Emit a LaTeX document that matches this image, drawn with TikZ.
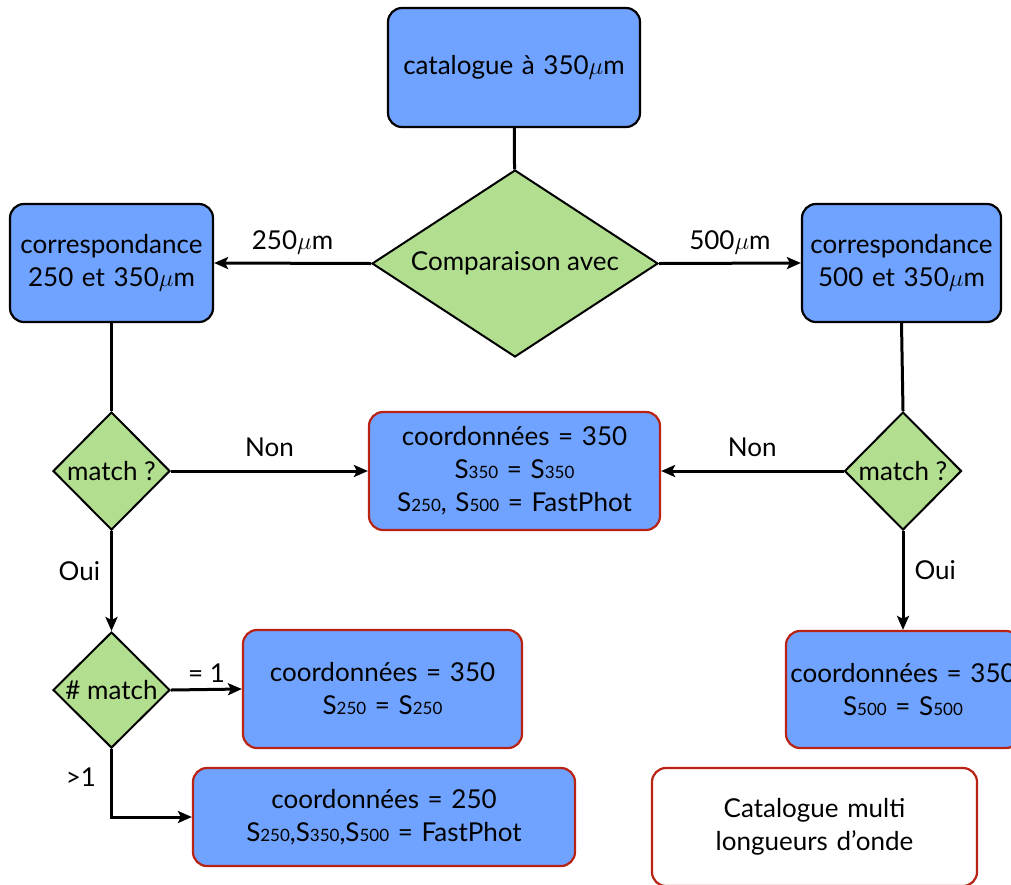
\documentclass[tikz,border=0pt]{standalone}
\usepackage{fontspec}
\setmainfont{Lato}
\usetikzlibrary{shapes.geometric,arrows.meta}
\definecolor{boxblue}{RGB}{112,163,255}
\definecolor{dgreen}{RGB}{178,222,143}
\definecolor{bred}{RGB}{185,35,20}
\newcommand\sbs[1]{{\fontsize{17}{17}\selectfont #1}}
\begin{document}
\begin{tikzpicture}[x=1pt,y=-1pt, font=\fontsize{26}{33}\selectfont,
 blk/.style={rectangle, rounded corners=14pt, draw=black, line width=2.2pt, fill=boxblue, align=center, inner sep=0pt},
 redbox/.style={blk, draw=bred},
 dia/.style={diamond, draw=black, line width=2pt, fill=dgreen, inner sep=0pt},
 conn/.style={line width=3pt},
 arr/.style={conn, -{Stealth[length=14pt,width=12pt,inset=3pt]}},
 lbl/.style={inner sep=0pt}]
\useasboundingbox (0,0) rectangle (1011,884);
\clip (0,0) rectangle (1011,884);
\node[blk, text width=252pt, minimum height=119pt] (top) at (514,67.5) {catalogue à 350$\mu$m};
\node[dia, minimum width=286pt, minimum height=187pt] (comp) at (515,263.5) {\makebox[0pt]{Comparaison avec}};
\node[blk, text width=203pt, minimum height=118pt] (c250) at (111.5,263) {correspondance\\250 et 350$\mu$m};
\node[blk, text width=199pt, minimum height=118pt] (c500) at (901.5,263) {correspondance\\500 et 350$\mu$m};
\node[dia, minimum width=117pt, minimum height=118pt] (m1) at (111.5,471) {\makebox[0pt]{match ?}};
\node[dia, minimum width=117pt, minimum height=118pt] (m2) at (903,471) {\makebox[0pt]{match ?}};
\node[redbox, text width=291pt, minimum height=118pt] (mid) at (514.5,471) {coordonnées = 350\\S\sbs{350} = S\sbs{350}\\S\sbs{250}, S\sbs{500} = FastPhot};
\node[dia, minimum width=117pt, minimum height=116pt] (nm) at (111.5,690) {\makebox[0pt]{\# match}};
\node[redbox, text width=279pt, minimum height=118pt] (b1) at (382.5,689) {coordonnées = 350\\S\sbs{250} = S\sbs{250}};
\node[redbox, text width=382pt, minimum height=98pt] (b2) at (384,817) {coordonnées = 250\\S\sbs{250},S\sbs{350},S\sbs{500} = FastPhot};
\node[redbox, text width=234pt, minimum height=117pt] (b3) at (903,689.5) {coordonnées = 350\\S\sbs{500} = S\sbs{500}};
\node[redbox, fill=white, text width=325pt, minimum height=118pt] (cat) at (814.5,827) {Catalogue multi\\longueurs d’onde};
\draw[conn] (top) -- (comp);
\draw[arr] (comp.west) -- (c250.east) node[lbl, midway, above=7pt] {250$\mu$m};
\draw[arr] (comp.east) -- (c500.west) node[lbl, midway, above=7pt] {500$\mu$m};
\draw[conn] (c250.south) -- (m1.north);
\draw[conn] (c500.south) -- (m2.north);
\draw[arr] (m1.east) -- (mid.west) node[lbl, midway, above=13pt] {Non};
\draw[arr] (m2.west) -- (mid.east) node[lbl, midway, above=13pt] {Non};
\draw[arr] (m1.south) -- (nm.north) node[lbl, pos=0.4, left=10pt] {Oui};
\draw[arr] (m2.south) -- (b3.north) node[lbl, pos=0.4, right=10pt] {Oui};
\draw[arr] (nm.east) -- (b1.west) node[lbl, midway, above=6pt] {= 1};
\draw[arr] (nm.south) |- (b2.west) node[lbl, pos=0.21, left=14pt] {>1};
\end{tikzpicture}
\end{document}
